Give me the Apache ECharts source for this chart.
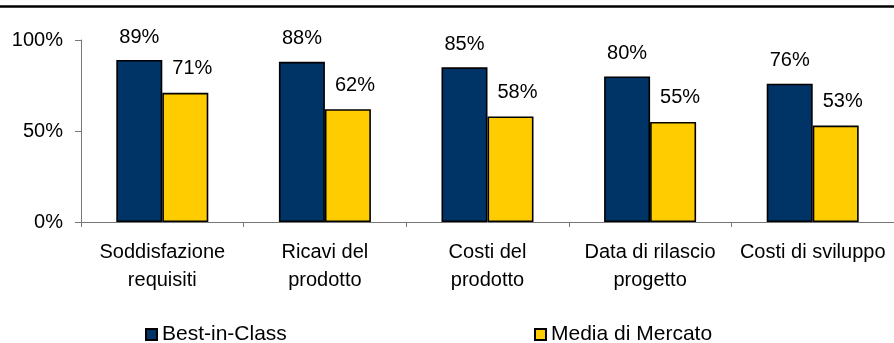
<!DOCTYPE html>
<html><head><meta charset="utf-8">
<script src="https://cdn.jsdelivr.net/npm/echarts@6/dist/echarts.min.js"></script>
<style>html,body{margin:0;padding:0;background:#fff}#c{width:894px;height:343px}</style>
</head><body><div id="c"></div>
<script>
const categories = ['Soddisfazione\nrequisiti', 'Ricavi del\nprodotto', 'Costi del\nprodotto', 'Data di rilascio\nprogetto', 'Costi di sviluppo'];
const bestInClass = [89, 88, 85, 80, 76];
const mediaMercato = [71, 62, 58, 55, 53];
const yTicks = [0, 50, 100];
const seriesNames = ['Best-in-Class', 'Media di Mercato'];

const FONT = '"Liberation Sans", Arial, sans-serif';
const chart = echarts.init(document.getElementById('c'), null, {renderer: 'canvas'});
chart.setOption({
  animation: false,
  backgroundColor: '#fff',
  textStyle: {fontFamily: FONT},
  graphic: [{type: 'line', shape: {x1: 0, y1: 6.5, x2: 894, y2: 6.5}, style: {stroke: '#000', lineWidth: 2.5}}],
  grid: {left: 81, top: 40, width: 815, height: 182, containLabel: false},
  legend: [
    {data: [seriesNames[0]], left: 145, top: 324, itemWidth: 11, itemHeight: 11, itemGap: 8, padding: 0,
     textStyle: {fontSize: 21, color: '#000', fontFamily: FONT}, icon: 'rect'},
    {data: [seriesNames[1]], left: 534, top: 324, itemWidth: 11, itemHeight: 11, itemGap: 8, padding: 0,
     textStyle: {fontSize: 21, color: '#000', fontFamily: FONT}, icon: 'rect'}
  ],
  xAxis: {
    type: 'category', data: categories,
    axisLine: {lineStyle: {color: '#777', width: 1}},
    axisTick: {show: true, length: 5, lineStyle: {color: '#777'}},
    axisLabel: {fontSize: 20, color: '#000', margin: 16, lineHeight: 28, interval: 0, fontFamily: FONT}
  },
  yAxis: {
    type: 'value', min: 0, max: 100, interval: 50,
    axisLine: {show: true, lineStyle: {color: '#777', width: 1}},
    axisTick: {show: true, inside: false, length: 6, lineStyle: {color: '#777'}},
    splitLine: {show: false},
    axisLabel: {fontSize: 20, color: '#000', margin: 18, fontFamily: FONT,
      formatter: v => yTicks.includes(v) ? v + '%' : ''}
  },
  series: [
    {name: seriesNames[0], type: 'bar', data: bestInClass, barWidth: 46, barGap: '0%',
     itemStyle: {color: '#003366', borderColor: '#000', borderWidth: 1.6},
     label: {show: true, position: 'top', distance: 13, fontSize: 20, color: '#000', fontFamily: FONT, formatter: '{c}%'}},
    {name: seriesNames[1], type: 'bar', data: mediaMercato, barWidth: 46,
     itemStyle: {color: '#FFCC00', borderColor: '#000', borderWidth: 1.6},
     label: {show: true, position: 'top', distance: 14, offset: [7, 0], fontSize: 20, color: '#000', fontFamily: FONT, formatter: '{c}%'}}
  ]
});
</script></body></html>
